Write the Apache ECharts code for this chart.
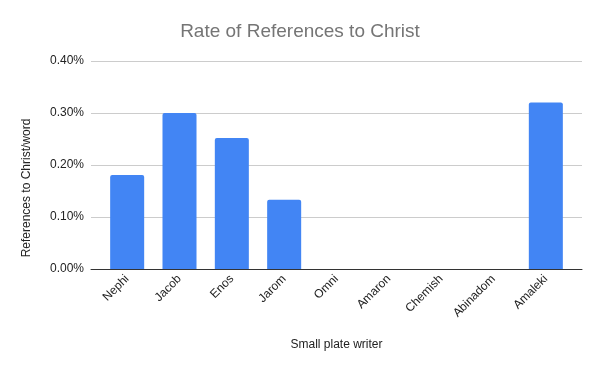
<!DOCTYPE html>
<html><head><meta charset="utf-8">
<script src="https://cdn.jsdelivr.net/npm/echarts@6/dist/echarts.min.js"></script>
<style>html,body{margin:0;padding:0;background:#fff}#c{width:600px;height:371px}</style>
</head><body><div id="c"></div>
<script>
const categories = ['Nephi','Jacob','Enos','Jarom','Omni','Amaron','Chemish','Abinadom','Amaleki'];
const rates = [0.00181, 0.00300, 0.00252, 0.00133, 0, 0, 0, 0, 0.00320];
const yTicks = [0, 0.001, 0.002, 0.003, 0.004];
const chart = echarts.init(document.getElementById('c'), null, {renderer:'canvas'});
const F = '"Liberation Sans", Arial, sans-serif';
const yMin = yTicks[0], yMax = yTicks[yTicks.length-1];
chart.setOption({
  animation:false,
  title:{text:'Rate of References to Christ', left:'center', top:17,
    textStyle:{fontFamily:F, fontSize:19, fontWeight:'normal', color:'#757575'}},
  grid:[
    {left:91, right:18, top:61, bottom:102},
    {left:101, right:28, top:61, bottom:102}
  ],
  xAxis:[
    {type:'value', gridIndex:0, min:0, max:1, show:true,
      axisLine:{show:true, onZero:false, lineStyle:{color:'#333', width:1}},
      axisTick:{show:false}, axisLabel:{show:false}, splitLine:{show:false}},
    {type:'category', gridIndex:1, data:categories,
      name:'Small plate writer', nameLocation:'middle', nameGap:70,
      nameTextStyle:{fontFamily:F, fontSize:12, color:'#222'},
      axisTick:{show:false},
      axisLine:{show:false},
      axisLabel:{rotate:45, fontFamily:F, fontSize:12, color:'#222', margin:8, interval:0}}
  ],
  yAxis:[
    {type:'value', gridIndex:0, min:yMin, max:yMax, interval:0.001,
      axisLine:{show:false}, axisTick:{show:false},
      splitLine:{lineStyle:{color:'#cccccc'}},
      axisLabel:{fontFamily:F, fontSize:12, color:'#222', margin:7,
        formatter:v=>(v*100).toFixed(2)+'%'}},
    {type:'value', gridIndex:1, min:yMin, max:yMax, interval:0.001, show:false,
      splitLine:{show:false}}
  ],
  graphic:[{type:'text', rotation:Math.PI/2, x:27, y:188,
    style:{text:'References to Christ/word', fontFamily:F, fontSize:12, fill:'#222',
      align:'center', verticalAlign:'middle'}}],
  series:[{type:'bar', xAxisIndex:1, yAxisIndex:1, data:rates, barCategoryGap:'35%',
    itemStyle:{color:'#4285f4', borderRadius:[2,2,0,0]}}]
});
</script></body></html>
